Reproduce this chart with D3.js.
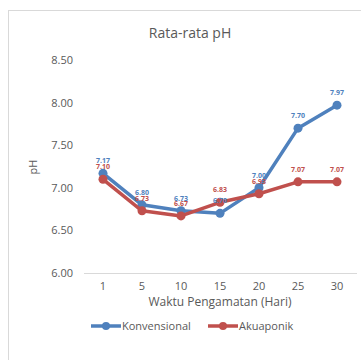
<!DOCTYPE html>
<html><head><meta charset="utf-8">
<script src="https://cdn.jsdelivr.net/npm/d3@7"></script>
<style>body{margin:0;background:#fff;}svg{display:block;}</style>
</head><body>
<svg id="c" width="361" height="360"></svg>
<script>
const categories = ["1","5","10","15","20","25","30"];
const konvensional = [7.17, 6.80, 6.73, 6.70, 7.00, 7.70, 7.97];
const akuaponik = [7.10, 6.73, 6.67, 6.83, 6.93, 7.07, 7.07];
const yTicks = [6.00, 6.50, 7.00, 7.50, 8.00, 8.50];
const seriesNames = ["Konvensional", "Akuaponik"];
const colors = ["#4F81BD", "#C0504D"];

const svg = d3.select("#c");
const font = "'Open Sans', 'Liberation Sans', sans-serif";
svg.append("rect").attr("x",8.5).attr("y",10.5).attr("width",400).attr("height",400)
  .attr("fill","#fff").attr("stroke","#d9d9d9");

const x = d3.scaleBand().domain(categories).range([83.5, 356.5]);
const y = d3.scaleLinear().domain([6, 8.5]).range([273, 60]);

svg.append("text").attr("x",190).attr("y",38).attr("text-anchor","middle")
  .attr("font-family",font).attr("font-size",14).attr("fill","#595959").text("Rata-rata pH");

// y axis labels
const yAxis = d3.axisLeft(y).tickValues(yTicks).tickFormat(d3.format(".2f")).tickSize(0).tickPadding(0);
const ya = svg.append("g").attr("transform","translate(73,0)").call(yAxis);
ya.select(".domain").remove();
ya.selectAll("text").attr("font-family",font).attr("font-size",11).attr("fill","#595959");

// x axis
const xAxis = d3.axisBottom(x).tickSizeOuter(0).tickSize(0).tickPadding(9);
const xa = svg.append("g").attr("transform",`translate(0,${y(6)})`).call(xAxis);
xa.select(".domain").attr("stroke","#d9d9d9");
xa.selectAll("text").attr("font-family",font).attr("font-size",11).attr("fill","#595959");

svg.append("text").attr("x",220).attr("y",306).attr("text-anchor","middle")
  .attr("font-family",font).attr("font-size",12).attr("fill","#595959").text("Waktu Pengamatan (Hari)");
svg.append("text").attr("transform","translate(37,167) rotate(-90)").attr("text-anchor","middle")
  .attr("font-family",font).attr("font-size",11).attr("fill","#595959").text("pH");

const cx = d => x(d) + x.bandwidth()/2;
const line = d3.line().x((d,i)=>cx(categories[i])).y(d=>y(d));
[konvensional, akuaponik].forEach((vals, s) => {
  svg.append("path").datum(vals).attr("d", line).attr("fill","none")
    .attr("stroke",colors[s]).attr("stroke-width",3.5).attr("stroke-linejoin","round");
  svg.selectAll(null).data(vals).enter().append("circle")
    .attr("cx",(d,i)=>cx(categories[i])).attr("cy",d=>y(d)).attr("r",4.5).attr("fill",colors[s]);
});
[akuaponik, konvensional].forEach((vals) => {
  const s = vals === konvensional ? 0 : 1;
  svg.selectAll(null).data(vals).enter().append("text")
    .attr("x",(d,i)=>cx(categories[i])).attr("y",d=>y(d)-10)
    .attr("text-anchor","middle").attr("font-family",font).attr("font-size",7).attr("font-weight","bold")
    .attr("fill",colors[s]).text(d=>d.toFixed(2));
});

// legend
const legX = [91, 208];
seriesNames.forEach((n, s) => {
  const g = svg.append("g");
  g.append("line").attr("x1",legX[s]).attr("x2",legX[s]+30).attr("y1",326).attr("y2",326)
    .attr("stroke",colors[s]).attr("stroke-width",3.5);
  g.append("circle").attr("cx",legX[s]+15).attr("cy",326).attr("r",4).attr("fill",colors[s]);
  g.append("text").attr("x",legX[s]+31).attr("y",330).attr("font-family",font).attr("font-size",11)
    .attr("fill","#595959").text(n);
});
</script>
</body></html>
